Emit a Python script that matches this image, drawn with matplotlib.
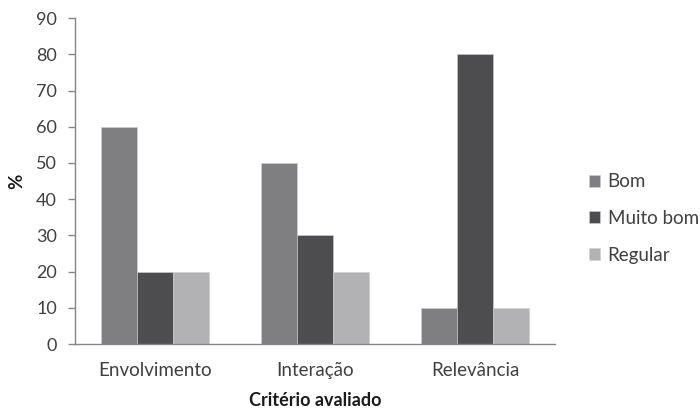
import matplotlib
matplotlib.use("Agg")
import matplotlib.pyplot as plt
import numpy as np

categories = ["Envolvimento", "Interação", "Relevância"]
series_names = ["Bom", "Muito bom", "Regular"]
bom = [60, 50, 10]
muito_bom = [20, 30, 80]
regular = [20, 20, 10]
y_ticks = [0, 10, 20, 30, 40, 50, 60, 70, 80, 90]

colors = ["#7f7f81", "#4d4d4f", "#b2b2b4"]
text_color = "#404040"
axis_color = "#868686"

plt.rcParams["font.family"] = ["Lato", "DejaVu Sans"]

fig = plt.figure(figsize=(7, 4.12), dpi=100)
ax = fig.add_axes([0.107, 0.165, 0.686, 0.791])

x = np.arange(len(categories))
width = 0.225
for i, (vals, name) in enumerate(zip([bom, muito_bom, regular], series_names)):
    ax.bar(x + (i - 1) * width, vals, width, color=colors[i], label=name,
           edgecolor="#d0d0d0", linewidth=0.4)

ax.set_xlim(-0.5, len(categories) - 0.5)
ax.set_ylim(0, 90)
ax.set_yticks(y_ticks)
ax.set_xticks(x)
ax.set_xticklabels(categories)
ax.tick_params(axis="y", colors=axis_color, labelcolor=text_color, labelsize=13,
               length=5, width=1, direction="out", pad=8)
ax.tick_params(axis="x", length=0, labelcolor=text_color, labelsize=13.5, pad=13)

for side in ["top", "right"]:
    ax.spines[side].set_visible(False)
for side in ["left", "bottom"]:
    ax.spines[side].set_color(axis_color)
    ax.spines[side].set_linewidth(1)

ax.set_ylabel("%", fontsize=13.5, fontweight="bold", color="#1a1a1a", labelpad=8)
ax.set_xlabel("Critério avaliado", fontsize=13, fontweight="bold", color="#1a1a1a", labelpad=9)

leg = ax.legend(loc="center left", bbox_to_anchor=(1.035, 0.385), frameon=False,
                fontsize=13.5, handlelength=0.6, handleheight=0.6, handletextpad=0.4,
                labelspacing=1.05, labelcolor=text_color)

fig.savefig("out.png", dpi=100)
